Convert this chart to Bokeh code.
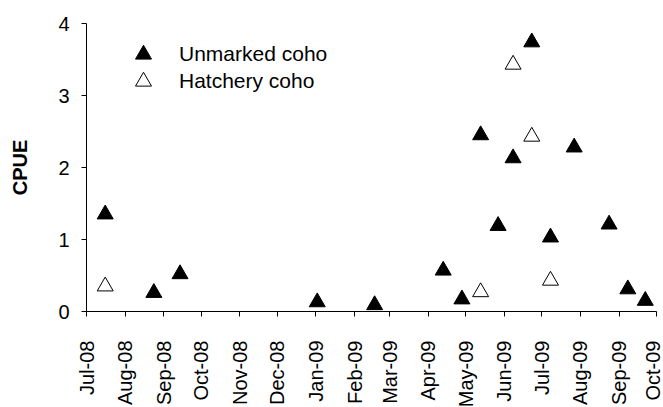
import math
import pandas as pd
from bokeh.plotting import figure
from bokeh.models import Range1d, FixedTicker, Legend, LegendItem, ColumnDataSource
from bokeh.embed import file_html
from bokeh.resources import INLINE

# ---- data ----
unmarked_dates = ["2008-07-16", "2008-08-24", "2008-09-14", "2009-01-02", "2009-02-17",
                  "2009-04-13", "2009-04-28", "2009-05-13", "2009-05-27", "2009-06-08",
                  "2009-06-23", "2009-07-08", "2009-07-27", "2009-08-24", "2009-09-08",
                  "2009-09-22"]
unmarked_cpue = [1.35, 0.26, 0.52, 0.13, 0.09, 0.57, 0.17, 2.45, 1.19, 2.13,
                 3.74, 1.03, 2.28, 1.21, 0.31, 0.15]

hatchery_dates = ["2008-07-16", "2009-05-13", "2009-06-08", "2009-06-23", "2009-07-08"]
hatchery_cpue = [0.35, 0.27, 3.43, 2.43, 0.43]

month_starts = ["2008-07-01", "2008-08-01", "2008-09-01", "2008-10-01", "2008-11-01",
                "2008-12-01", "2009-01-01", "2009-02-01", "2009-03-01", "2009-04-01",
                "2009-05-01", "2009-06-01", "2009-07-01", "2009-08-01", "2009-09-01",
                "2009-10-01"]
month_labels = ["Jul-08", "Aug-08", "Sep-08", "Oct-08", "Nov-08", "Dec-08", "Jan-09",
                "Feb-09", "Mar-09", "Apr-09", "May-09", "Jun-09", "Jul-09", "Aug-09",
                "Sep-09", "Oct-09"]
y_ticks = [0, 1, 2, 3, 4]

FONT = "Liberation Sans"

def to_ms(s):
    return pd.Timestamp(s).value // 10**6

tick_ms = [to_ms(s) for s in month_starts]

p = figure(frame_width=570, frame_height=288, x_axis_type="datetime",
           output_backend="svg", toolbar_location=None,
           x_range=Range1d(start=tick_ms[0], end=tick_ms[-1]),
           y_range=Range1d(start=0, end=4),
           min_border_left=86, min_border_right=7,
           min_border_top=23, min_border_bottom=96)
p.outline_line_color = None
p.xgrid.visible = False
p.ygrid.visible = False
p.background_fill_color = "white"
p.border_fill_color = "white"

src_u = ColumnDataSource(dict(x=pd.to_datetime(unmarked_dates), y=unmarked_cpue))
src_h = ColumnDataSource(dict(x=pd.to_datetime(hatchery_dates), y=hatchery_cpue))

r_u = p.scatter("x", "y", source=src_u, marker="triangle", size=16,
                fill_color="black", line_color="black", line_width=1)
r_h = p.scatter("x", "y", source=src_h, marker="triangle", size=16,
                fill_color="white", line_color="black", line_width=1)

# x axis
xa = p.xaxis[0]
xa.ticker = FixedTicker(ticks=tick_ms, minor_ticks=[])
xa.major_label_overrides = {t: l for t, l in zip(tick_ms, month_labels)}
xa.major_label_orientation = math.pi / 2
xa.major_label_text_font = FONT
xa.major_label_text_font_size = "20px"
xa.major_label_text_color = "black"
xa.major_label_standoff = 24
xa.major_tick_in = 0
xa.major_tick_out = 5
xa.minor_tick_out = 0
xa.minor_tick_in = 0
xa.axis_line_color = "black"
xa.major_tick_line_color = "black"

# y axis
ya = p.yaxis[0]
ya.ticker = FixedTicker(ticks=y_ticks, minor_ticks=[])
ya.major_label_text_font = FONT
ya.major_label_text_font_size = "20px"
ya.major_label_text_color = "black"
ya.major_label_standoff = 12
ya.major_tick_in = 0
ya.major_tick_out = 5
ya.minor_tick_out = 0
ya.minor_tick_in = 0
ya.axis_line_color = "black"
ya.major_tick_line_color = "black"
ya.axis_label = "CPUE"
ya.axis_label_text_font = FONT
ya.axis_label_text_font_style = "bold"
ya.axis_label_text_font_size = "20px"
ya.axis_label_text_color = "black"
ya.axis_label_standoff = 24

common = dict(margin=0, padding=0, glyph_width=40, glyph_height=40, label_height=40,
              spacing=0, label_standoff=16, label_text_font=FONT,
              label_text_font_size="21px", label_text_color="black",
              border_line_color=None, background_fill_alpha=0)
leg_u = Legend(items=[LegendItem(label="Unmarked coho", renderers=[r_u])],
               location=(37, 237), **common)
leg_h = Legend(items=[LegendItem(label="Hatchery coho", renderers=[r_h])],
               location=(37, 210), **common)
p.add_layout(leg_u)
p.add_layout(leg_h)

open("out.html", "w").write(file_html(p, INLINE))
